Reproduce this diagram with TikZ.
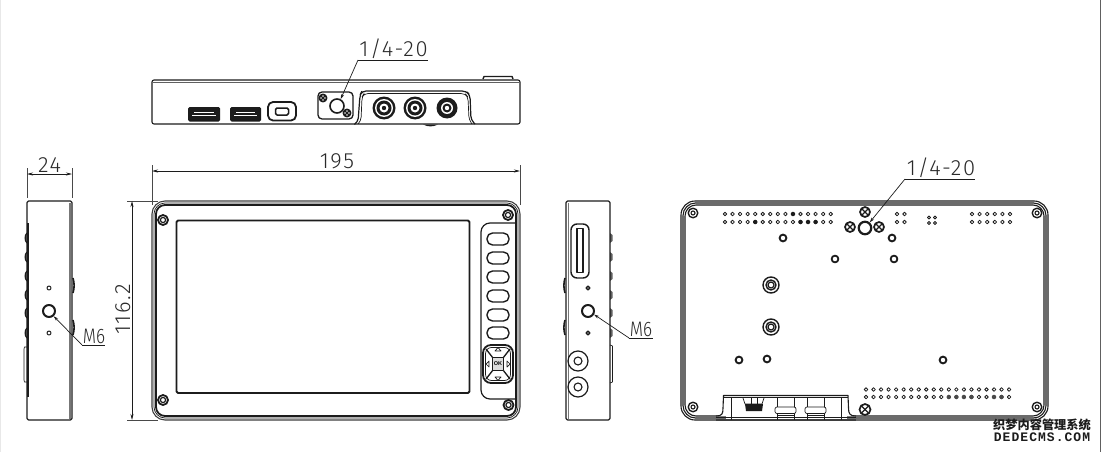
\documentclass[tikz,border=0pt]{standalone}
\usepackage{fontspec}
\usetikzlibrary{arrows.meta}
\setmainfont{Liberation Sans}
\newfontfamily\cadfont[LetterSpace=7,UprightFont={* Light}]{Fira Sans}
\newfontfamily\cadnarrow[FakeStretch=0.82,UprightFont={* Light}]{Fira Sans}
\newfontfamily\cjkfont{Noto Sans CJK SC}
\newfontfamily\wmfont[LetterSpace=8]{Liberation Mono}
\definecolor{ink}{HTML}{1C1C1C}
\definecolor{cadtext}{HTML}{2A2A2A}
\tikzset{
  x=1pt,y=-1pt,
  every path/.style={line join=round},
  thinl/.style={draw=ink,line width=0.7pt},
  body/.style={draw=ink,line width=1.1pt},
  heavy/.style={draw=ink,line width=1.8pt},
  grayl/.style={draw=ink!85,line width=1.1pt},
  dimline/.style={draw=ink,line width=0.7pt,{Stealth[length=6pt,width=3pt]}-{Stealth[length=6pt,width=3pt]}},
  extline/.style={draw=ink!80,line width=0.6pt},
  leader/.style={draw=ink,line width=0.7pt,-{Stealth[length=5pt,width=3pt]}},
  under/.style={draw=ink,line width=0.7pt},
  cadlabel/.style={inner sep=0pt,text=cadtext,font=\fontsize{22}{22}\cadfont},
  smalllabel/.style={inner sep=0pt,text=cadtext,font=\fontsize{21}{21}\cadnarrow},
  hole/.style={circle,draw=ink,line width=2pt,inner sep=0pt,minimum size=#1,fill=white},
  pin/.style={draw=ink,line width=0.8pt,fill=white},
  ringdot/.style={draw=ink,line width=1.8pt,fill=white},
  keybtn/.style={draw=ink,line width=1.4pt,rounded corners=5.5pt,fill=white},
}
\newcommand{\myscrew}[3]{% x, y, r
  \draw[ink,line width=1.7pt,fill=white] (#1,#2) circle[radius=#3 pt];
  \draw[ink,line width=1.3pt] (#1,#2)++(-0.7*#3,-0.7*#3) -- ++(1.4*#3,1.4*#3);
  \draw[ink,line width=1.3pt] (#1,#2)++(-0.7*#3,0.7*#3) -- ++(1.4*#3,-1.4*#3);
}
\begin{document}
\begin{tikzpicture}
\useasboundingbox (0,0) rectangle (1102,452);
% page edges
\draw[draw=ink!70,line width=1.2pt] (1100.5,0) -- (1100.5,452);
\draw[draw=ink!10,line width=1pt] (0.5,0) -- (0.5,452);

%% TOP VIEW
\draw[ink,line width=1.4pt] (483,79) -- (484,76.5) -- (512,76.5) -- (513,79);
\draw[body,fill=white,rounded corners=2pt] (152,80) rectangle (520,124);
\draw[ink!70,line width=1pt] (153,82) -- (519,82);
\fill[ink] (423,124.5) .. controls (428,127) and (433,127) .. (438,124.5) -- cycle;
% hdmi ports
\foreach \xa/\xb in {188/220,230/261}{
  \fill[ink,rounded corners=1.5pt] (\xa,107) rectangle (\xb,121.5);
  \draw[white,line width=0.8pt] (\xa+6,112) -- (\xb-6,112);
  \draw[white,line width=1.2pt] (\xa+4,115.5) -- (\xb-4,115.5);
}
\draw[ink,line width=1.8pt,rounded corners=5pt] (268,102) rectangle (296,120.5);
\draw[ink,line width=1.5pt,rounded corners=1.5pt] (275.5,108) rectangle (288.5,115);
% plate
\draw[body,line width=1.3pt,rounded corners=4pt] (318,92) rectangle (353,119);
\node[circle,draw=ink,line width=1.6pt,inner sep=0pt,minimum size=14pt] (topthread) at (337,106) {};
\myscrew{323}{98}{3.6}
\myscrew{347}{113}{3.6}
% rear panel
\draw[body,line width=1.2pt,rounded corners=4pt] (355,124) -- (358,122) -- (360,95) -- (362,91) -- (466,91) -- (470,95) -- (471,120) -- (475,124);
\draw[thinl,rounded corners=4pt] (358,124) -- (361,121) -- (362,97) -- (364,93.5) -- (465,93.5) -- (468,97) -- (469,120) -- (472,124);
% round connectors
\foreach \cx in {384,415}{
  \fill[ink] (\cx,108) circle[radius=11.5pt];
  \fill[white] (\cx,108) circle[radius=9pt];
  \fill[ink] (\cx,108) circle[radius=7.5pt];
  \fill[white] (\cx,108) circle[radius=4.5pt];
  \fill[ink] (\cx,108) circle[radius=2.2pt];
}
\fill[ink] (447,108) circle[radius=10.5pt];
\fill[white] (447,108) circle[radius=6pt];
\fill[ink] (447,108) circle[radius=4.5pt];
\fill[white] (447,108) circle[radius=2.2pt];
% label
\coordinate (topu1) at (358,60);
\coordinate (topu2) at (428,60);
\node[cadlabel,anchor=south] (toplabel) at (393.5,59) {1/4-20};
\draw[under] (topu1) -- (topu2);
\draw[leader] (topu1) -- (topthread.62);

%% DIMENSION 195
\coordinate (d195a) at (152,171);
\coordinate (d195b) at (520,171);
\coordinate (e195a1) at (152,165); \coordinate (e195a2) at (152,205);
\coordinate (e195b1) at (520,165); \coordinate (e195b2) at (520,205);
\draw[extline] (e195a1) -- (e195a2);
\draw[extline] (e195b1) -- (e195b2);
\draw[dimline] (d195a) -- (d195b);
\node[cadlabel,anchor=south] (l195) at (337,169.5) {195};

%% LEFT SIDE VIEW
\foreach \cy in {238,257,276,295,313,333}{
  \draw[ink,line width=1.2pt,fill=ink!45] (27,\cy-5) .. controls (24.5,\cy-3) and (24.5,\cy+3) .. (27,\cy+5);
}
\draw[thinl,fill=white] (27,347) -- (24.5,347) -- (24,349) -- (24,380) -- (24.5,382) -- (27,382);
\draw[ink,line width=1.6pt] (73,278) .. controls (74.5,283) and (74.5,288) .. (73,293);
\draw[ink,line width=1.6pt] (73,320) .. controls (74.5,325) and (74.5,330) .. (73,335);
\draw[body,rounded corners=1.5pt] (27,201) rectangle (72,420);
\draw[ink,line width=1.8pt] (28,223) -- (28,397);
\draw[ink!60,line width=1.4pt] (70,203) -- (70,419);
\node[hole=12pt] (lm6) at (49,311) {};
\draw[ink,line width=1pt] (49,288) circle[radius=2pt];
\draw[ink,line width=1pt] (49,333) circle[radius=2pt];
\coordinate (lu1) at (82,345);
\coordinate (lu2) at (105,345);
\node[smalllabel,anchor=south] (lml) at (94,344) {M6};
\draw[under] (lu1) -- (lu2);
\draw[leader] (lu1) -- (lm6.-48);
% dimension 24
\coordinate (d24a) at (27,174); \coordinate (d24b) at (72,174);
\coordinate (e24a1) at (27,168); \coordinate (e24a2) at (27,198);
\coordinate (e24b1) at (72,168); \coordinate (e24b2) at (72,198);
\draw[extline] (e24a1) -- (e24a2);
\draw[extline] (e24b1) -- (e24b2);
\draw[dimline] (d24a) -- (d24b);
\node[cadlabel,anchor=south] (l24) at (49.5,172.5) {24};

%% FRONT VIEW
\draw[grayl,rounded corners=13pt] (152,201) rectangle (520,420);
\draw[thinl,rounded corners=11pt] (154,203) rectangle (518,418);
\draw[heavy,rounded corners=9pt] (156,205) rectangle (516,416);
\draw[ink,line width=1.8pt,fill=white,rounded corners=1.5pt] (176.5,220.5) rectangle (469.5,393);
% keypad
\draw[ink,line width=1.2pt,rounded corners=9pt] (516,223) -- (481,223) -- (481,399) -- (516,399);
\foreach \sx/\sy in {163/220,163/400,508/215,508.5/405}{
  \draw[ink,line width=1.8pt,fill=white] (\sx,\sy) circle[radius=5pt];
  \draw[ink,line width=1.2pt] (\sx,\sy) circle[radius=2.6pt];
}
\foreach \cy in {239,258,277,296,315,333}{
  \draw[keybtn] (487,\cy-6) rectangle (509,\cy+6);
}
\draw[ink,line width=1.8pt,fill=white,rounded corners=8pt] (483,345) rectangle (513,383);
\draw[thinl,rounded corners=6pt] (485.5,347.5) rectangle (510.5,380.5);
\draw[ink,line width=1.3pt] (486,349) -- (493,358) (510,349) -- (503,358) (486,379) -- (493,370) (510,379) -- (503,370);
\node[draw=ink,line width=1.8pt,fill=ink!15,inner sep=0pt,minimum width=11pt,minimum height=13pt,font=\fontsize{5.5}{5.5}\selectfont\bfseries] (okkey) at (498,364) {OK};
\draw[thinl] (495,351) -- (498,347.5) -- (501,351) -- cycle;
\draw[thinl] (495,377) -- (498,380.5) -- (501,377) -- cycle;
\draw[thinl] (489,361) -- (486,364) -- (489,367) -- cycle;
\draw[thinl] (507,361) -- (510,364) -- (507,367) -- cycle;
% dimension 116.2
\coordinate (d116a) at (132,201); \coordinate (d116b) at (132,420);
\coordinate (e116a1) at (127,201); \coordinate (e116a2) at (158,201);
\coordinate (e116b1) at (127,420); \coordinate (e116b2) at (158,420);
\draw[extline] (e116a1) -- (e116a2);
\draw[extline] (e116b1) -- (e116b2);
\draw[dimline] (d116a) -- (d116b);
\node[cadlabel,rotate=90,anchor=south] (l116) at (130.5,309.5) {116.2};

%% RIGHT SIDE VIEW
\foreach \cy in {238,257,276,295,313,333}{
  \fill[ink!70] (610,\cy-5) -- (612.5,\cy-3) -- (612.5,\cy+3) -- (610,\cy+5) -- cycle;
}
\draw[thinl] (610,345) -- (612.5,346) -- (612.5,382) -- (610,383);
\draw[ink,line width=1.6pt] (565,278) .. controls (563.5,283) and (563.5,288) .. (565,293);
\draw[ink,line width=1.6pt] (565,320) .. controls (563.5,325) and (563.5,330) .. (565,335);
\draw[body,rounded corners=1.5pt] (566,201) rectangle (610,420);
\draw[ink!60,line width=1pt] (568,203) -- (568,419);
\draw[ink,line width=1.4pt,rounded corners=6pt] (571,224) rectangle (589,278);
\draw[ink,line width=1.4pt,fill=white] (577,228.5) rectangle (583,272.5);
\node[hole=12pt] (rm6) at (588,311) {};
\draw[ink,line width=1.4pt] (588,288) circle[radius=1.8pt];
\draw[ink,line width=1.4pt] (588,333) circle[radius=1.8pt];
\foreach \cy in {361,387}{
  \draw[ink,line width=1.2pt] (578,\cy) circle[radius=10pt];
  \draw[ink,line width=1.1pt] (578,\cy) circle[radius=4pt];
}
\coordinate (ru1) at (629,338);
\coordinate (ru2) at (653,338);
\node[smalllabel,anchor=south] (rml) at (641,337) {M6};
\draw[under] (ru1) -- (ru2);
\draw[leader] (ru1) -- (rm6.-30);

%% BACK VIEW
\draw[body,rounded corners=14pt] (681,201) rectangle (1048,420);
\draw[body,rounded corners=12.5pt] (683,203) rectangle (1046,418);
\draw[body,rounded corners=11pt] (685,205) rectangle (1044,416);
% notch
\draw[draw=white,fill=white] (726,396) rectangle (846,419);
\draw[white,line width=6pt] (730,417) -- (842,417);
\draw[body,fill=white] (716,416) .. controls (722,416) and (723,414) .. (723,408) -- (723.5,395.5) -- (848,395.5) -- (848.5,408) .. controls (848.5,414) and (850,416) .. (856,416);
\draw[ink,line width=1.5pt] (723,397.5) -- (848,397.5);
\draw[ink,line width=1.5pt] (716,417.5) -- (856,417.5);
\draw[grayl] (716,420) -- (856,420);
\draw[thinl] (731,398) -- (731,420);
\draw[thinl] (841,398) -- (841,420);
% bottom connector
\draw[thinl] (743,398) -- (745,404) -- (762,404) -- (764,398);
\draw[thinl] (751,398) -- (751,404) (757,398) -- (757,404);
\fill[ink] (745,404) -- (763,404) -- (762,411) -- (746,411) -- cycle;
\foreach \xa/\xb in {777/794,807/824}{
  \draw[thinl] (\xa,398) -- (\xa,420);
  \draw[thinl] (\xb,398) -- (\xb,420);
  \draw[thinl,fill=white,rounded corners=2pt] (\xa-2,407) rectangle (\xb+2,413.5);
  \draw[thinl] (\xa,415.5) -- (\xb,415.5);
}
% corner screws
\foreach \sx/\sy in {693/213,1037/213,693/407,1037/407}{
  \draw[ink,line width=1.4pt,fill=white] (\sx,\sy) circle[radius=4.8pt];
  \draw[ink,line width=1.1pt] (\sx,\sy) circle[radius=2pt];
}
% dot arrays
\foreach \i in {0,...,14}{
  \draw[pin] (725+7.55*\i,214) circle[radius=1.8pt];
  \draw[pin] (725+7.55*\i,222) circle[radius=1.8pt];
}
\foreach \i in {4,10,11,12}{\fill[ink] (725+7.55*\i,222) circle[radius=2.2pt];}
\fill[ink] (725+7.55*9,214) circle[radius=2.2pt];
\foreach \px in {897,904.5}{
  \draw[pin] (\px,214) circle[radius=1.8pt];
  \draw[pin] (\px,222) circle[radius=1.8pt];
}
\foreach \px in {929,935}{
  \draw[pin] (\px,217.5) circle[radius=1.5pt];
  \draw[pin] (\px,223) circle[radius=1.5pt];
}
\foreach \i in {0,...,5}{
  \draw[pin] (972+7.6*\i,214) circle[radius=1.8pt];
  \draw[pin] (972+7.6*\i,222) circle[radius=1.8pt];
}
\foreach \i in {0,...,19}{
  \draw[pin] (866+7.53*\i,389.5) circle[radius=1.8pt];
  \draw[pin] (866+7.53*\i,397) circle[radius=1.8pt];
}
\foreach \i in {11,12,13,14,17,18}{\fill[ink!80] (866+7.53*\i,397) circle[radius=2.2pt];}
% center mount
\node[hole=12.5pt,line width=2.2pt] (backthread) at (865,228) {};
\myscrew{850}{227}{5}
\myscrew{879}{227}{5}
\myscrew{865}{212}{5}
\myscrew{865}{409.5}{5.5}
% standoffs
\foreach \cx/\cy in {783/238,892/238,739/360,767/359,943/360}{
  \fill[ink] (\cx,\cy) circle[radius=4.4pt];
  \fill[white] (\cx,\cy) circle[radius=2.2pt];
}
\foreach \cx/\cy in {835/259,894/259}{
  \draw[ringdot] (\cx,\cy) circle[radius=3.4pt];
}
\foreach \cy in {285,327}{
  \draw[ink,line width=1.4pt] (771,\cy) circle[radius=8pt];
  \draw[ink,line width=1.4pt] (771,\cy) circle[radius=5pt];
  \draw[ink,line width=1.2pt] (771,\cy) circle[radius=3pt];
}
\coordinate (bu1) at (905,179);
\coordinate (bu2) at (975,179);
\node[cadlabel,anchor=south] (backlabel) at (941,178) {1/4-20};
\draw[under] (bu1) -- (bu2);
\draw[leader] (bu1) -- (backthread.50);

%% WATERMARK
\node[inner sep=0pt,anchor=center,font=\fontsize{12.2}{12.2}\cjkfont\bfseries,text=ink] (wm1) at (1042,425) {织梦内容管理系统};
\node[inner sep=0pt,anchor=center,font=\fontsize{13}{13}\wmfont\bfseries,text=ink] (wm2) at (1042,437) {DEDECMS.COM};
\end{tikzpicture}
\end{document}
